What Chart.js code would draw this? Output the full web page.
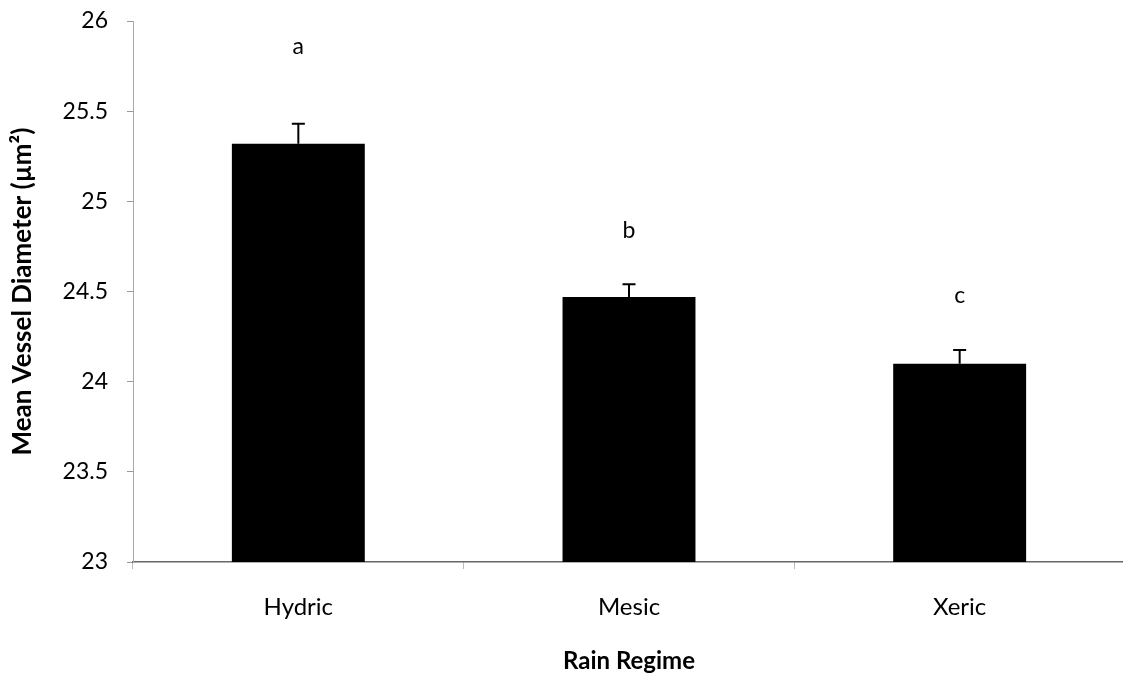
<!DOCTYPE html>
<html>
<head>
<meta charset="utf-8">
<script src="https://cdn.jsdelivr.net/npm/chart.js@4.4.1/dist/chart.umd.min.js"></script>
<style>
  html, body { margin: 0; padding: 0; background: #fff; overflow: hidden; }
  #wrap { width: 1125px; height: 676px; }
</style>
</head>
<body>
<div id="wrap"><canvas id="c" width="1125" height="676"></canvas></div>
<script>
// Mean vessel diameter by rain regime, with standard error and significance letters
const categories = ['Hydric', 'Mesic', 'Xeric'];
const means = [25.32, 24.47, 24.10];
const stdErrors = [0.11, 0.07, 0.075];
const groupLetters = ['a', 'b', 'c'];
const letterLevels = [25.86, 24.84, 24.48];
const yTicks = [23, 23.5, 24, 24.5, 25, 25.5, 26];

const FONT = 'Lato, "Open Sans", sans-serif';

// Upward error bars with a short cap, plus the letter above each bar
const errorBarPlugin = {
  id: 'errorBars',
  afterDatasetsDraw(chart) {
    const ctx = chart.ctx;
    const y = chart.scales.y;
    const meta = chart.getDatasetMeta(0);
    ctx.save();
    ctx.strokeStyle = '#000';
    ctx.lineWidth = 2;
    meta.data.forEach((bar, i) => {
      const top = y.getPixelForValue(means[i]);
      const hi = y.getPixelForValue(means[i] + stdErrors[i]);
      ctx.beginPath();
      ctx.moveTo(bar.x, top);
      ctx.lineTo(bar.x, hi);
      ctx.moveTo(bar.x - 6.5, hi);
      ctx.lineTo(bar.x + 6.5, hi);
      ctx.stroke();
      ctx.fillStyle = '#000';
      ctx.font = '23px ' + FONT;
      ctx.textAlign = 'center';
      ctx.textBaseline = 'middle';
      ctx.fillText(groupLetters[i], bar.x, y.getPixelForValue(letterLevels[i]));
    });
    ctx.restore();
  }
};

new Chart(document.getElementById('c'), {
  type: 'bar',
  data: {
    labels: categories,
    datasets: [{
      data: means,
      backgroundColor: '#000',
      borderWidth: 0,
      barPercentage: 0.402,
      categoryPercentage: 1.0
    }]
  },
  options: {
    responsive: false,
    animation: false,
    layout: { padding: { top: 21, right: 0, left: 0, bottom: 0 } },
    plugins: { legend: { display: false }, tooltip: { enabled: false } },
    scales: {
      x: {
        grid: { drawOnChartArea: false, drawTicks: true, tickLength: 7, color: '#bbb', offset: true },
        border: { color: '#666', width: 1.5 },
        ticks: { color: '#000', font: { family: FONT, size: 24 }, padding: 24 },
        title: {
          display: true, text: 'Rain Regime', color: '#000',
          font: { family: FONT, size: 24, weight: 'bold' },
          padding: { top: 0, bottom: 0 }
        },
        afterFit(scale) { scale.height = 114; scale.paddingLeft = 0; scale.paddingRight = 0; }
      },
      y: {
        min: 23, max: 26,
        afterBuildTicks(scale) { scale.ticks = yTicks.map(v => ({ value: v })); },
        grid: { drawOnChartArea: false, drawTicks: true, tickLength: 6, color: '#999' },
        border: { color: '#aaa', width: 1, dash: [2, 2] },
        ticks: {
          color: '#000', font: { family: FONT, size: 23 }, padding: 19,
          callback: v => String(v)
        },
        title: {
          display: true, text: 'Mean Vessel Diameter (µm²)', color: '#000',
          font: { family: FONT, size: 26, weight: 'bold' },
          padding: { top: 7, bottom: 0 }
        },
        afterFit(scale) { scale.width = 133; scale.paddingTop = 0; scale.paddingBottom = 0; }
      }
    }
  },
  plugins: [errorBarPlugin]
});
</script>
</body>
</html>
